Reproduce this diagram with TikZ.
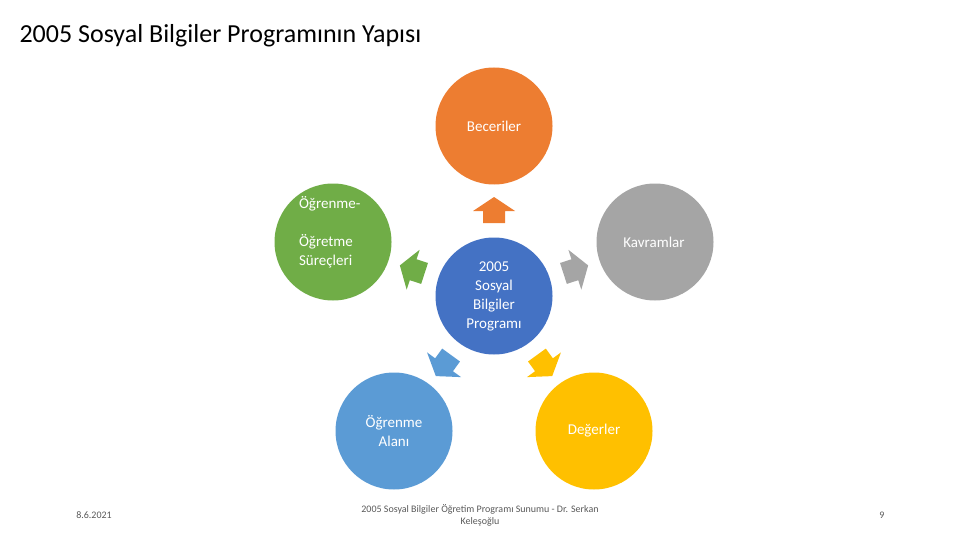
\documentclass[tikz,border=0pt]{standalone}
\usepackage{fontspec}
\setmainfont{Carlito}
\begin{document}
\begin{tikzpicture}[x=1pt,y=-1pt,
  circ/.style={circle,minimum size=117pt,inner sep=0pt,align=center,text=white,font=\fontsize{15}{19}\selectfont},
  arr/.pic={\fill[#1] (-11,-73) -- (11,-73) -- (11,-85) -- (21,-85) -- (0,-99) -- (-21,-85) -- (-11,-85) -- cycle;}]
\useasboundingbox (0,0) rectangle (960,540);
\definecolor{cOr}{HTML}{ED7D31}\definecolor{cGr}{HTML}{A5A5A5}\definecolor{cYe}{HTML}{FFC000}
\definecolor{cBl}{HTML}{5B9BD5}\definecolor{cGn}{HTML}{70AD47}\definecolor{cCe}{HTML}{4472C4}
\node[anchor=west,font=\fontsize{26}{30}\selectfont] (title) at (16,36) {2005 Sosyal Bilgiler Programının Yapısı};
\node[circ,fill=cCe] (c) at (494,296) {2005\\Sosyal\\Bilgiler\\Programı};
\node[circ,fill=cOr] (b) at (494,126) {Beceriler};
\node[circ,fill=cGr] (k) at (655,242) {\hspace*{-2pt}Kavramlar};
\node[circ,fill=cYe] (d) at (594,431) {Değerler};
\node[circ,fill=cBl] (a) at (394,431) {Öğrenme\\Alanı};
\node[circ,fill=cGn,align=left] (o) at (333,242) {\hspace*{-8pt}\parbox{60pt}{\raggedright Öğrenme-\\Öğretme\\Süreçleri}\\[18pt]};
\path (c.center) pic[rotate=0] {arr=cOr};
\path (c.center) pic[rotate=-72] {arr=cGr};
\path (c.center) pic[rotate=-144] {arr=cYe};
\path (c.center) pic[rotate=144] {arr=cBl};
\path (c.center) pic[rotate=72] {arr=cGn};
\begin{scope}[every node/.style={text=black!65,font=\fontsize{10}{12}\selectfont}]
\node (date) at (94,515) {8.6.2021};
\node[align=center] (foot) at (480,515) {2005 Sosyal Bilgiler Öğretim Programı Sunumu - Dr. Serkan\\Keleşoğlu};
\node (pg) at (882,515) {9};
\end{scope}
\end{tikzpicture}
\end{document}
